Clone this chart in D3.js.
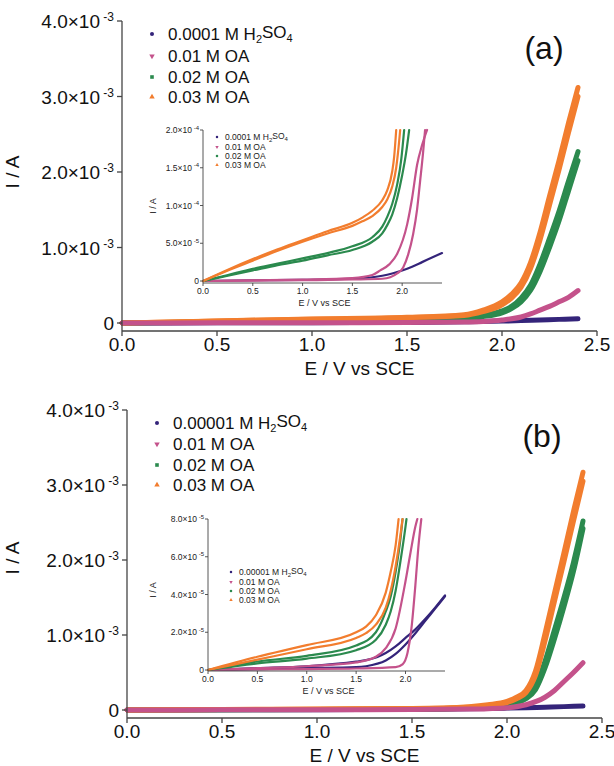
<!DOCTYPE html>
<html><head><meta charset="utf-8">
<script src="https://cdn.jsdelivr.net/npm/d3@7"></script>
<style>body{margin:0;background:#fff}svg{display:block;font-family:"Liberation Sans",Arial,sans-serif}</style>
</head><body><svg id="c" width="614" height="766"></svg>
<script>
// ---------- DATA ----------
const seriesNamesA = ["0.0001 M H2SO4", "0.01 M OA", "0.02 M OA", "0.03 M OA"];
const seriesNamesB = ["0.00001 M H2SO4", "0.01 M OA", "0.02 M OA", "0.03 M OA"];
const colors = ["#34247a", "#c4528b", "#2b8a4e", "#f27d2e"];
const mainXTicks = [0, 0.5, 1.0, 1.5, 2.0, 2.5];
const mainYTicks = [0, 1e-3, 2e-3, 3e-3, 4e-3];
const insetXTicks = [0, 0.5, 1.0, 1.5, 2.0];
const insetYTicksA = [0, 5e-5, 1e-4, 1.5e-4, 2e-4];
const insetYTicksB = [0, 2e-5, 4e-5, 6e-5, 8e-5];

// Main panel (a): [E, I] pairs, two scan branches per series
const mainA_navy   = [[0,0],[0.5,2e-6],[1.0,4e-6],[1.5,8e-6],[1.8,1.5e-5],[2.0,2.5e-5],[2.1,3.2e-5],[2.2,4e-5],[2.3,4.8e-5],[2.4,5.5e-5]];
const mainA_pink   = [[0,0],[0.5,2e-6],[1.0,4e-6],[1.5,6e-6],[1.8,1.2e-5],[1.9,2e-5],[2.0,4e-5],[2.1,8e-5],[2.15,1.2e-4],[2.2,1.7e-4],[2.25,2.2e-4],[2.3,2.8e-4],[2.35,3.4e-4],[2.4,4.3e-4]];
const mainA_green1 = [[0,0],[0.5,1.6e-5],[1.0,3e-5],[1.5,4.5e-5],[1.8,7e-5],[1.9,1e-4],[2.0,1.6e-4],[2.05,2.2e-4],[2.1,3.3e-4],[2.15,5e-4],[2.2,7.8e-4],[2.25,1.12e-3],[2.3,1.48e-3],[2.35,1.88e-3],[2.4,2.27e-3]];
const mainA_green2 = [[0,0],[0.5,1.4e-5],[1.0,2.7e-5],[1.5,4e-5],[1.8,6e-5],[1.9,8.5e-5],[2.0,1.35e-4],[2.05,1.9e-4],[2.1,2.8e-4],[2.15,4.3e-4],[2.2,6.8e-4],[2.25,1.0e-3],[2.3,1.35e-3],[2.35,1.75e-3],[2.4,2.15e-3]];
const mainA_orange1= [[0,0],[0.5,2.8e-5],[1.0,5.3e-5],[1.5,7.5e-5],[1.8,1.1e-4],[1.9,1.7e-4],[2.0,2.8e-4],[2.05,3.8e-4],[2.1,5.3e-4],[2.15,8e-4],[2.2,1.2e-3],[2.25,1.68e-3],[2.3,2.15e-3],[2.35,2.65e-3],[2.4,3.12e-3]];
const mainA_orange2= [[0,0],[0.5,2.6e-5],[1.0,5e-5],[1.5,7e-5],[1.8,1e-4],[1.9,1.5e-4],[2.0,2.4e-4],[2.05,3.3e-4],[2.1,4.7e-4],[2.15,7.2e-4],[2.2,1.1e-3],[2.25,1.56e-3],[2.3,2.03e-3],[2.35,2.52e-3],[2.4,3.0e-3]];

// Main panel (b)
const mainB_navy   = [[0,0],[0.5,2e-6],[1.0,4e-6],[1.5,8e-6],[1.8,1.5e-5],[2.0,2.5e-5],[2.1,3e-5],[2.2,3.8e-5],[2.3,4.5e-5],[2.4,5.2e-5]];
const mainB_pink   = [[0,0],[0.5,2e-6],[1.0,4e-6],[1.5,6e-6],[1.8,1.2e-5],[1.9,1.8e-5],[2.0,3e-5],[2.1,7e-5],[2.2,1.7e-4],[2.25,2.6e-4],[2.3,3.8e-4],[2.35,5e-4],[2.4,6.3e-4]];
const mainB_green1 = [[0,0],[0.5,4.5e-6],[1.0,7.5e-6],[1.5,1.3e-5],[1.8,3e-5],[1.9,5e-5],[2.0,8e-5],[2.05,1.15e-4],[2.1,1.8e-4],[2.15,3.2e-4],[2.2,6.5e-4],[2.25,1.07e-3],[2.3,1.5e-3],[2.35,1.97e-3],[2.4,2.52e-3]];
const mainB_green2 = [[0,0],[0.5,3.5e-6],[1.0,6e-6],[1.5,1.05e-5],[1.8,2.4e-5],[1.9,4e-5],[2.0,6.5e-5],[2.05,9.5e-5],[2.1,1.5e-4],[2.15,2.7e-4],[2.2,5.6e-4],[2.25,9.5e-4],[2.3,1.38e-3],[2.35,1.85e-3],[2.4,2.42e-3]];
const mainB_orange1= [[0,0],[0.5,7e-6],[1.0,1.3e-5],[1.5,2e-5],[1.8,4.5e-5],[1.9,7e-5],[2.0,1.15e-4],[2.05,1.7e-4],[2.1,2.6e-4],[2.15,5.2e-4],[2.2,1.02e-3],[2.25,1.56e-3],[2.3,2.1e-3],[2.35,2.65e-3],[2.4,3.17e-3]];
const mainB_orange2= [[0,0],[0.5,5.5e-6],[1.0,1.1e-5],[1.5,1.7e-5],[1.8,3.6e-5],[1.9,6e-5],[2.0,1e-4],[2.05,1.5e-4],[2.1,2.3e-4],[2.15,4.6e-4],[2.2,9.2e-4],[2.25,1.45e-3],[2.3,1.98e-3],[2.35,2.52e-3],[2.4,3.05e-3]];

// Inset (a)
const insA_navy    = [[0,0],[0.5,1e-6],[1.0,1.5e-6],[1.5,3e-6],[1.7,5e-6],[1.8,7e-6],[1.9,1e-5],[2.0,1.4e-5],[2.1,1.9e-5],[2.2,2.5e-5],[2.3,3.1e-5],[2.4,3.7e-5]];
const insA_pink1   = [[0,0],[0.5,1e-6],[1.0,2e-6],[1.5,4e-6],[1.7,8e-6],[1.78,1.4e-5],[1.87,2.2e-5],[1.95,3.6e-5],[2.05,7.5e-5],[2.1,1.1e-4],[2.15,1.54e-4],[2.2,1.8e-4],[2.25,2e-4]];
const insA_pink2   = [[0,0],[0.5,5e-7],[1.0,1e-6],[1.5,2e-6],[1.8,3e-6],[1.88,5e-6],[1.95,1e-5],[2.01,1.8e-5],[2.06,3.5e-5],[2.11,6.2e-5],[2.15,9.5e-5],[2.18,1.32e-4],[2.21,1.7e-4],[2.23,2e-4]];
const insA_green1  = [[0,0],[0.25,8e-6],[0.5,1.6e-5],[0.75,2.3e-5],[1.0,3e-5],[1.25,3.7e-5],[1.5,4.6e-5],[1.7,5.8e-5],[1.8,7.2e-5],[1.85,8.5e-5],[1.9,1.02e-4],[1.95,1.28e-4],[1.99,1.6e-4],[2.02,2e-4]];
const insA_green2  = [[0,0],[0.25,7e-6],[0.5,1.4e-5],[0.75,2.1e-5],[1.0,2.7e-5],[1.25,3.4e-5],[1.5,4.1e-5],[1.7,5.2e-5],[1.8,6.3e-5],[1.85,7.4e-5],[1.9,8.8e-5],[1.95,1.1e-4],[2.0,1.4e-4],[2.04,1.7e-4],[2.07,2e-4]];
const insA_orange1 = [[0,0],[0.25,1.5e-5],[0.5,2.9e-5],[0.75,4.2e-5],[1.0,5.4e-5],[1.25,6.6e-5],[1.5,7.7e-5],[1.6,8.4e-5],[1.7,9.3e-5],[1.8,1.07e-4],[1.85,1.2e-4],[1.9,1.45e-4],[1.92,1.65e-4],[1.94,2e-4]];
const insA_orange2 = [[0,0],[0.25,1.4e-5],[0.5,2.7e-5],[0.75,4e-5],[1.0,5.2e-5],[1.25,6.3e-5],[1.5,7.3e-5],[1.6,7.9e-5],[1.7,8.6e-5],[1.8,9.8e-5],[1.85,1.08e-4],[1.9,1.25e-4],[1.94,1.5e-4],[1.96,1.72e-4],[1.98,2e-4]];

// Inset (b)
const insB_navy1   = [[0,0],[0.5,1e-6],[1.0,2e-6],[1.5,4.4e-6],[1.6,5.2e-6],[1.8,9e-6],[1.9,1.25e-5],[2.0,1.7e-5],[2.1,2.15e-5],[2.2,2.7e-5],[2.3,3.3e-5],[2.4,3.95e-5]];
const insB_navy2   = [[0,0],[0.5,5e-7],[1.0,1e-6],[1.5,1.5e-6],[1.6,2e-6],[1.8,5e-6],[1.9,8.5e-6],[2.0,1.35e-5],[2.1,1.95e-5],[2.2,2.6e-5],[2.3,3.25e-5],[2.4,3.9e-5]];
const insB_pink1   = [[0,0],[0.5,1e-6],[1.0,2e-6],[1.5,4e-6],[1.7,7e-6],[1.8,1.16e-5],[1.9,2.2e-5],[2.0,4.7e-5],[2.05,6.2e-5],[2.1,7.6e-5],[2.12,8e-5]];
const insB_pink2   = [[0,0],[0.5,3e-7],[1.0,5e-7],[1.5,8e-7],[1.9,1.5e-6],[1.97,3e-6],[2.02,9e-6],[2.06,2.2e-5],[2.1,4.5e-5],[2.13,6.5e-5],[2.16,8e-5]];
const insB_green1  = [[0,0],[0.5,4.5e-6],[1.0,7.5e-6],[1.5,1.3e-5],[1.7,2e-5],[1.8,3.1e-5],[1.85,3.9e-5],[1.9,5.2e-5],[1.95,7e-5],[1.97,8e-5]];
const insB_green2  = [[0,0],[0.5,3.5e-6],[1.0,6e-6],[1.5,1.05e-5],[1.7,1.6e-5],[1.8,2.4e-5],[1.85,3.1e-5],[1.9,4.2e-5],[1.95,5.8e-5],[2.0,7.6e-5],[2.01,8e-5]];
const insB_orange1 = [[0,0],[0.5,7e-6],[1.0,1.32e-5],[1.5,2e-5],[1.6,2.3e-5],[1.7,2.9e-5],[1.8,4.1e-5],[1.85,5.2e-5],[1.9,6.6e-5],[1.93,8e-5]];
const insB_orange2 = [[0,0],[0.5,5.5e-6],[1.0,1.1e-5],[1.5,1.7e-5],[1.6,1.95e-5],[1.7,2.4e-5],[1.8,3.3e-5],[1.85,4.2e-5],[1.9,5.5e-5],[1.95,7.2e-5],[1.97,8e-5]];

// ---------- DRAWING ----------
const svg = d3.select("#c");

function sciLabel(sel, v, supSize) {
  if (v === 0) { sel.text("0"); return; }
  const e = Math.floor(Math.log10(v) + 1e-9);
  const m = v / Math.pow(10, e);
  sel.append("tspan").text(m.toFixed(1) + "\u00d710");
  sel.append("tspan").attr("font-size", supSize).attr("dy", "-0.55em").text(" " + String(e));
}

function legendLabel(sel, name, subSize) {
  const m = name.match(/^(.*)H2SO4$/);
  if (m) {
    sel.append("tspan").text(m[1] + "H");
    sel.append("tspan").attr("font-size", subSize).attr("dy", "0.3em").text("2");
    sel.append("tspan").attr("dy", "-0.3em").text("SO");
    sel.append("tspan").attr("font-size", subSize).attr("dy", "0.3em").text("4");
  } else sel.text(name);
}

const symbols = [d3.symbolCircle, d3.symbolTriangle, d3.symbolSquare, d3.symbolTriangle];
const symRot = [0, 180, 0, 0];

function drawPanel(cfg) {
  const g = svg.append("g");
  const x = d3.scaleLinear().domain([0, 2.5]).range(cfg.xr);
  const y = d3.scaleLinear().domain([0, 4e-3]).range(cfg.yr);
  const line = d3.line().x(d => x(d[0])).y(d => y(d[1])).curve(d3.curveMonotoneX);
  cfg.curves.forEach(c => {
    g.append("path").attr("d", line(c.data)).attr("fill", "none")
      .attr("stroke", colors[c.s]).attr("stroke-width", 5).attr("stroke-linecap", "round").attr("stroke-linejoin", "round");
  });
  const ax = g.append("g").attr("stroke", "#444").attr("stroke-width", 1.3);
  ax.append("line").attr("x1", cfg.xr[0]).attr("x2", cfg.xr[0]).attr("y1", y(4e-3)).attr("y2", cfg.axisY);
  ax.append("line").attr("x1", cfg.xr[0]).attr("x2", x(2.5)).attr("y1", cfg.axisY).attr("y2", cfg.axisY);
  mainYTicks.forEach(t => {
    ax.append("line").attr("x1", cfg.xr[0] - 5).attr("x2", cfg.xr[0]).attr("y1", y(t)).attr("y2", y(t));
    const tx = g.append("text").attr("x", cfg.xr[0] - 8).attr("y", y(t) + 7).attr("text-anchor", "end")
      .attr("font-size", 19).attr("fill", "#111");
    sciLabel(tx, t, 12);
  });
  mainXTicks.forEach(t => {
    ax.append("line").attr("x1", x(t)).attr("x2", x(t)).attr("y1", cfg.axisY).attr("y2", cfg.axisY + 5);
    g.append("text").attr("x", x(t)).attr("y", cfg.axisY + 20).attr("text-anchor", "middle")
      .attr("font-size", 19).attr("fill", "#111").text(t.toFixed(1));
  });
  g.append("text").attr("x", (cfg.xr[0] + x(2.5)) / 2).attr("y", cfg.axisY + 44).attr("text-anchor", "middle")
    .attr("font-size", 19).attr("fill", "#111").text("E / V vs SCE");
  g.append("text").attr("transform", `translate(${cfg.ylabX},${cfg.ylabY}) rotate(-90)`).attr("text-anchor", "middle")
    .attr("font-size", 19).attr("fill", "#111").text("I / A");
  g.append("text").attr("x", cfg.tagX).attr("y", cfg.tagY).attr("text-anchor", "middle")
    .attr("font-size", 32).attr("fill", "#111").text(cfg.tag);
  cfg.names.forEach((n, i) => {
    const yy = cfg.legY[i];
    g.append("path").attr("d", d3.symbol(symbols[i], 13)())
      .attr("transform", `translate(${cfg.legX},${yy}) rotate(${symRot[i]})`).attr("fill", colors[i]);
    const t = g.append("text").attr("x", cfg.legX + 16).attr("y", yy + 6).attr("font-size", 17).attr("fill", "#111");
    legendLabel(t, n, 11);
  });
}

function drawInset(cfg) {
  const g = svg.append("g");
  const x = d3.scaleLinear().domain([0, 2.4]).range(cfg.xr);
  const y = d3.scaleLinear().domain([0, cfg.yMax]).range(cfg.yr);
  const line = d3.line().x(d => x(d[0])).y(d => y(d[1])).curve(d3.curveMonotoneX);
  cfg.curves.forEach(c => {
    g.append("path").attr("d", line(c.data)).attr("fill", "none")
      .attr("stroke", colors[c.s]).attr("stroke-width", 2.2).attr("stroke-linecap", "round");
  });
  const ax = g.append("g").attr("stroke", "#444").attr("stroke-width", 0.9);
  ax.append("line").attr("x1", cfg.xr[0]).attr("x2", cfg.xr[0]).attr("y1", y(cfg.yMax)).attr("y2", cfg.axisY);
  ax.append("line").attr("x1", cfg.xr[0]).attr("x2", x(2.4)).attr("y1", cfg.axisY).attr("y2", cfg.axisY);
  cfg.yTicks.forEach(t => {
    ax.append("line").attr("x1", cfg.xr[0] - 3).attr("x2", cfg.xr[0]).attr("y1", y(t)).attr("y2", y(t));
    const tx = g.append("text").attr("x", cfg.xr[0] - 4).attr("y", y(t) + 3).attr("text-anchor", "end")
      .attr("font-size", 8.5).attr("fill", "#222");
    sciLabel(tx, t, 6);
  });
  insetXTicks.forEach(t => {
    ax.append("line").attr("x1", x(t)).attr("x2", x(t)).attr("y1", cfg.axisY).attr("y2", cfg.axisY + 3);
    g.append("text").attr("x", x(t)).attr("y", cfg.axisY + 11).attr("text-anchor", "middle")
      .attr("font-size", 8.5).attr("fill", "#222").text(t.toFixed(1));
  });
  g.append("text").attr("x", (cfg.xr[0] + x(2.4)) / 2 + 2).attr("y", cfg.axisY + 23).attr("text-anchor", "middle")
    .attr("font-size", 9).attr("fill", "#222").text("E / V vs SCE");
  g.append("text").attr("transform", `translate(${cfg.ylabX},${cfg.ylabY}) rotate(-90)`).attr("text-anchor", "middle")
    .attr("font-size", 9).attr("fill", "#222").text("I / A");
  cfg.names.forEach((n, i) => {
    const yy = cfg.legY[i];
    g.append("path").attr("d", d3.symbol(symbols[i], 5)())
      .attr("transform", `translate(${cfg.legX},${yy}) rotate(${symRot[i]})`).attr("fill", colors[i]);
    const t = g.append("text").attr("x", cfg.legX + 8).attr("y", yy + 3).attr("font-size", 8.5).attr("fill", "#222");
    legendLabel(t, n, 6);
  });
}

drawPanel({
  xr: [122, 597], yr: [323, 21], axisY: 331, ylabX: 19, ylabY: 172, tag: "(a)", tagX: 544, tagY: 59,
  names: seriesNamesA, legX: 152, legY: [34, 56, 77, 97],
  curves: [{s:0,data:mainA_navy},{s:2,data:mainA_green2},{s:2,data:mainA_green1},{s:3,data:mainA_orange2},{s:3,data:mainA_orange1},{s:1,data:mainA_pink}]
});
drawInset({
  xr: [203, 442], yr: [281, 130], yMax: 2e-4, axisY: 283, yTicks: insetYTicksA, ylabX: 156, ylabY: 206,
  names: seriesNamesA, legX: 217, legY: [137, 147, 156, 165],
  curves: [{s:0,data:insA_navy},{s:1,data:insA_pink1},{s:1,data:insA_pink2},{s:2,data:insA_green1},{s:2,data:insA_green2},{s:3,data:insA_orange1},{s:3,data:insA_orange2}]
});
drawPanel({
  xr: [127, 602], yr: [710, 410], axisY: 718, ylabX: 19, ylabY: 558, tag: "(b)", tagX: 542, tagY: 447,
  names: seriesNamesB, legX: 157, legY: [423, 444, 465, 485],
  curves: [{s:0,data:mainB_navy},{s:2,data:mainB_green2},{s:2,data:mainB_green1},{s:3,data:mainB_orange2},{s:3,data:mainB_orange1},{s:1,data:mainB_pink}]
});
drawInset({
  xr: [208, 445], yr: [670, 519], yMax: 8e-5, axisY: 671, yTicks: insetYTicksB, ylabX: 156, ylabY: 590,
  names: seriesNamesB, legX: 231, legY: [572, 582, 591, 600],
  curves: [{s:0,data:insB_navy1},{s:0,data:insB_navy2},{s:1,data:insB_pink1},{s:1,data:insB_pink2},{s:2,data:insB_green1},{s:2,data:insB_green2},{s:3,data:insB_orange1},{s:3,data:insB_orange2}]
});
</script></body></html>
